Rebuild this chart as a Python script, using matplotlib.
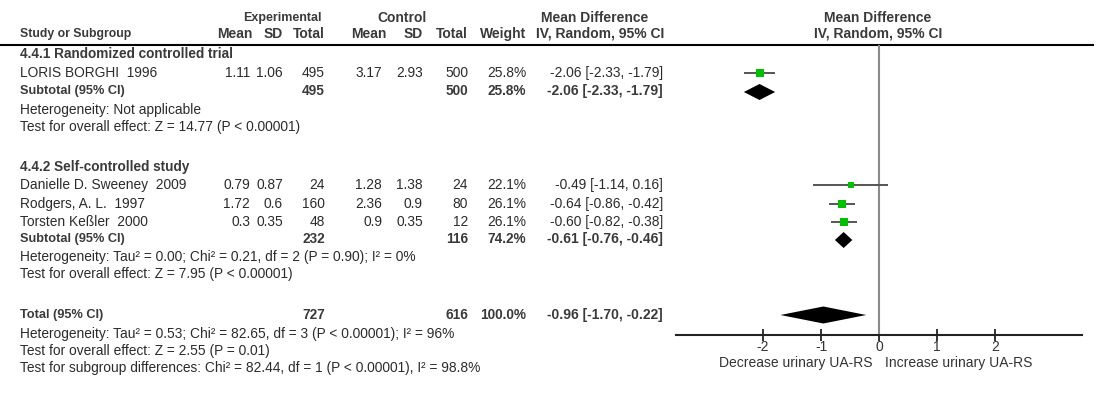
import matplotlib
matplotlib.use("Agg")
import matplotlib.pyplot as plt

plt.rcParams['font.family'] = ['Liberation Sans', 'DejaVu Sans']

# ---------------- data ----------------
groups = ["4.4.1 Randomized controlled trial", "4.4.2 Self-controlled study"]
studies = ["LORIS BORGHI  1996", "Danielle D. Sweeney  2009",
           "Rodgers, A. L.  1997", "Torsten Keßler  2000"]
study_group = [0, 1, 1, 1]
exp_mean = [1.11, 0.79, 1.72, 0.3]
exp_sd = [1.06, 0.87, 0.6, 0.35]
exp_n = [495, 24, 160, 48]
ctl_mean = [3.17, 1.28, 2.36, 0.9]
ctl_sd = [2.93, 1.38, 0.9, 0.35]
ctl_n = [500, 24, 80, 12]
weight = [25.8, 22.1, 26.1, 26.1]
md = [-2.06, -0.49, -0.64, -0.60]
md_lo = [-2.33, -1.14, -0.86, -0.82]
md_hi = [-1.79, 0.16, -0.42, -0.38]

sub_exp_n = [495, 232]
sub_ctl_n = [500, 116]
sub_weight = [25.8, 74.2]
sub_md = [-2.06, -0.61]
sub_lo = [-2.33, -0.76]
sub_hi = [-1.79, -0.46]
sub_het = ["Heterogeneity: Not applicable",
           "Heterogeneity: Tau² = 0.00; Chi² = 0.21, df = 2 (P = 0.90); I² = 0%"]
sub_test = ["Test for overall effect: Z = 14.77 (P < 0.00001)",
            "Test for overall effect: Z = 7.95 (P < 0.00001)"]

tot_exp_n = 727
tot_ctl_n = 616
tot_weight = 100.0
tot_md = -0.96
tot_lo = -1.70
tot_hi = -0.22
tot_notes = ["Heterogeneity: Tau² = 0.53; Chi² = 82.65, df = 3 (P < 0.00001); I² = 96%",
             "Test for overall effect: Z = 2.55 (P = 0.01)",
             "Test for subgroup differences: Chi² = 82.44, df = 1 (P < 0.00001), I² = 98.8%"]

xticks = [-2, -1, 0, 1, 2]
left_label = "Decrease urinary UA-RS"
right_label = "Increase urinary UA-RS"

# ---------------- layout (pixels) ----------------
W, H = 1100, 393
fig = plt.figure(figsize=(W / 100, H / 100), dpi=100)
tab = fig.add_axes([0, 0, 1, 1])
tab.set_xlim(0, W)
tab.set_ylim(H, 0)
tab.axis('off')

FS = 9.9      # normal body text
FSB = 9.8     # bold numbers / section titles
FSH = 10.0    # bold column headers
FSL = 9.2     # bold row labels (Subtotal / Total)
TXT = '#2b2b2b'
HDR = '#3a3a3a'

col_name = 20
col_em, col_esd, col_en = 250, 283, 325
col_cm, col_csd, col_cn = 382, 423, 468
col_w = 526
col_md = 663

def t(x, y, s, ha='left', bold=False, color=TXT, size=None):
    if size is None:
        size = FSB if bold else FS
    tab.text(x, y, s, ha=ha, va='center', fontsize=size,
             fontweight='bold' if bold else 'normal', color=color)

# headers
t(282, 18, "Experimental", 'center', True, HDR, 9.0)
t(402, 18, "Control", 'center', True, HDR, FSH)
t(595, 18, "Mean Difference", 'center', True, HDR, FSH)
t(878, 18, "Mean Difference", 'center', True, HDR, FSH)
t(col_name, 34, "Study or Subgroup", 'left', True, HDR, 8.8)
t(252, 34, "Mean", 'right', True, HDR, FSH)
t(col_esd, 34, "SD", 'right', True, HDR, FSH)
t(col_en, 34, "Total", 'right', True, HDR, FSH)
t(387, 34, "Mean", 'right', True, HDR, FSH)
t(col_csd, 34, "SD", 'right', True, HDR, FSH)
t(col_cn, 34, "Total", 'right', True, HDR, FSH)
t(col_w, 34, "Weight", 'right', True, HDR, FSH)
t(600, 34, "IV, Random, 95% CI", 'center', True, HDR, FSH)
t(878, 34, "IV, Random, 95% CI", 'center', True, HDR, FSH)
tab.plot([0, 1094], [45, 45], color='black', lw=1.5, solid_capstyle='butt')

group_y = [54, 167]
study_y = [73, 185, 204, 222]
sub_y = [91, 239]
het_y = [110, 257]
test_y = [127, 274]
tot_y = 315
tot_note_y = [334, 351, 368]

def fmt_ci(m, l, h):
    return f"{m:.2f} [{l:.2f}, {h:.2f}]"

for g, name in enumerate(groups):
    t(col_name, group_y[g], name, bold=True, color=HDR)
    t(col_name, sub_y[g], "Subtotal (95% CI)", bold=True, color=HDR, size=FSL)
    t(col_en, sub_y[g], str(sub_exp_n[g]), 'right', True, HDR)
    t(col_cn, sub_y[g], str(sub_ctl_n[g]), 'right', True, HDR)
    t(col_w, sub_y[g], f"{sub_weight[g]:.1f}%", 'right', True, HDR)
    t(col_md, sub_y[g], fmt_ci(sub_md[g], sub_lo[g], sub_hi[g]), 'right', True, HDR, 10)
    t(col_name, het_y[g], sub_het[g])
    t(col_name, test_y[g], sub_test[g])

for i, s in enumerate(studies):
    y = study_y[i]
    t(col_name, y, s)
    t(col_em, y, f"{exp_mean[i]:g}", 'right')
    t(col_esd, y, f"{exp_sd[i]:g}", 'right')
    t(col_en, y, str(exp_n[i]), 'right')
    t(col_cm, y, f"{ctl_mean[i]:g}", 'right')
    t(col_csd, y, f"{ctl_sd[i]:g}", 'right')
    t(col_cn, y, str(ctl_n[i]), 'right')
    t(col_w, y, f"{weight[i]:.1f}%", 'right')
    t(col_md, y, fmt_ci(md[i], md_lo[i], md_hi[i]), 'right')

t(col_name, tot_y, "Total (95% CI)", bold=True, color=HDR, size=FSL)
t(col_en, tot_y, str(tot_exp_n), 'right', True, HDR)
t(col_cn, tot_y, str(tot_ctl_n), 'right', True, HDR)
t(col_w, tot_y, f"{tot_weight:.1f}%", 'right', True, HDR)
t(col_md, tot_y, fmt_ci(tot_md, tot_lo, tot_hi), 'right', True, HDR, 10)
for s, y in zip(tot_notes, tot_note_y):
    t(col_name, y, s)

# ---------------- forest plot ----------------
ax_left, ax_right = 676, 1082
ax = fig.add_axes([ax_left / W, 0, (ax_right - ax_left) / W, 1])
ax.set_xlim(-3.5, 3.5)
ax.set_ylim(H, 0)
ax.patch.set_alpha(0)
for sp in ['top', 'left', 'right']:
    ax.spines[sp].set_visible(False)
axis_y = 335
ax.spines['bottom'].set_position(('data', axis_y))
ax.spines['bottom'].set_linewidth(1.5)
ax.spines['bottom'].set_color('#222222')
ax.set_yticks([])
ax.set_xticks(xticks)
ax.set_xticklabels([f"{v:g}" for v in xticks])
ax.tick_params(axis='x', direction='inout', length=9, width=1.3, color='#222222',
               labelsize=10, labelcolor='#333333', pad=-1)

ax.vlines(0, 45, axis_y, color='#8a8a8a', lw=1.5)

for i in range(len(studies)):
    y = study_y[i]
    ax.plot([md_lo[i], md_hi[i]], [y, y], color='#555555', lw=1.4,
            solid_capstyle='butt', zorder=2)
    ax.plot([md[i]], [y], marker='s', color='#00c000',
            ms=5.3 * (weight[i] / 26.1) ** 0.4, mew=0, zorder=3)

def diamond(m, l, h, y, half=8):
    ax.fill([l, m, h, m], [y, y - half, y, y + half], color='black', lw=0, zorder=3)

for g in range(len(groups)):
    diamond(sub_md[g], sub_lo[g], sub_hi[g], sub_y[g] + 1)
diamond(tot_md, tot_lo, tot_hi, tot_y, 8.5)

ax.text(-0.12, 363, left_label, transform=ax.transData, ha='right', va='center',
        fontsize=10, color='#333333')
ax.text(0.1, 363, right_label, transform=ax.transData, ha='left', va='center',
        fontsize=10, color='#333333')

fig.savefig("out.png", dpi=100)
